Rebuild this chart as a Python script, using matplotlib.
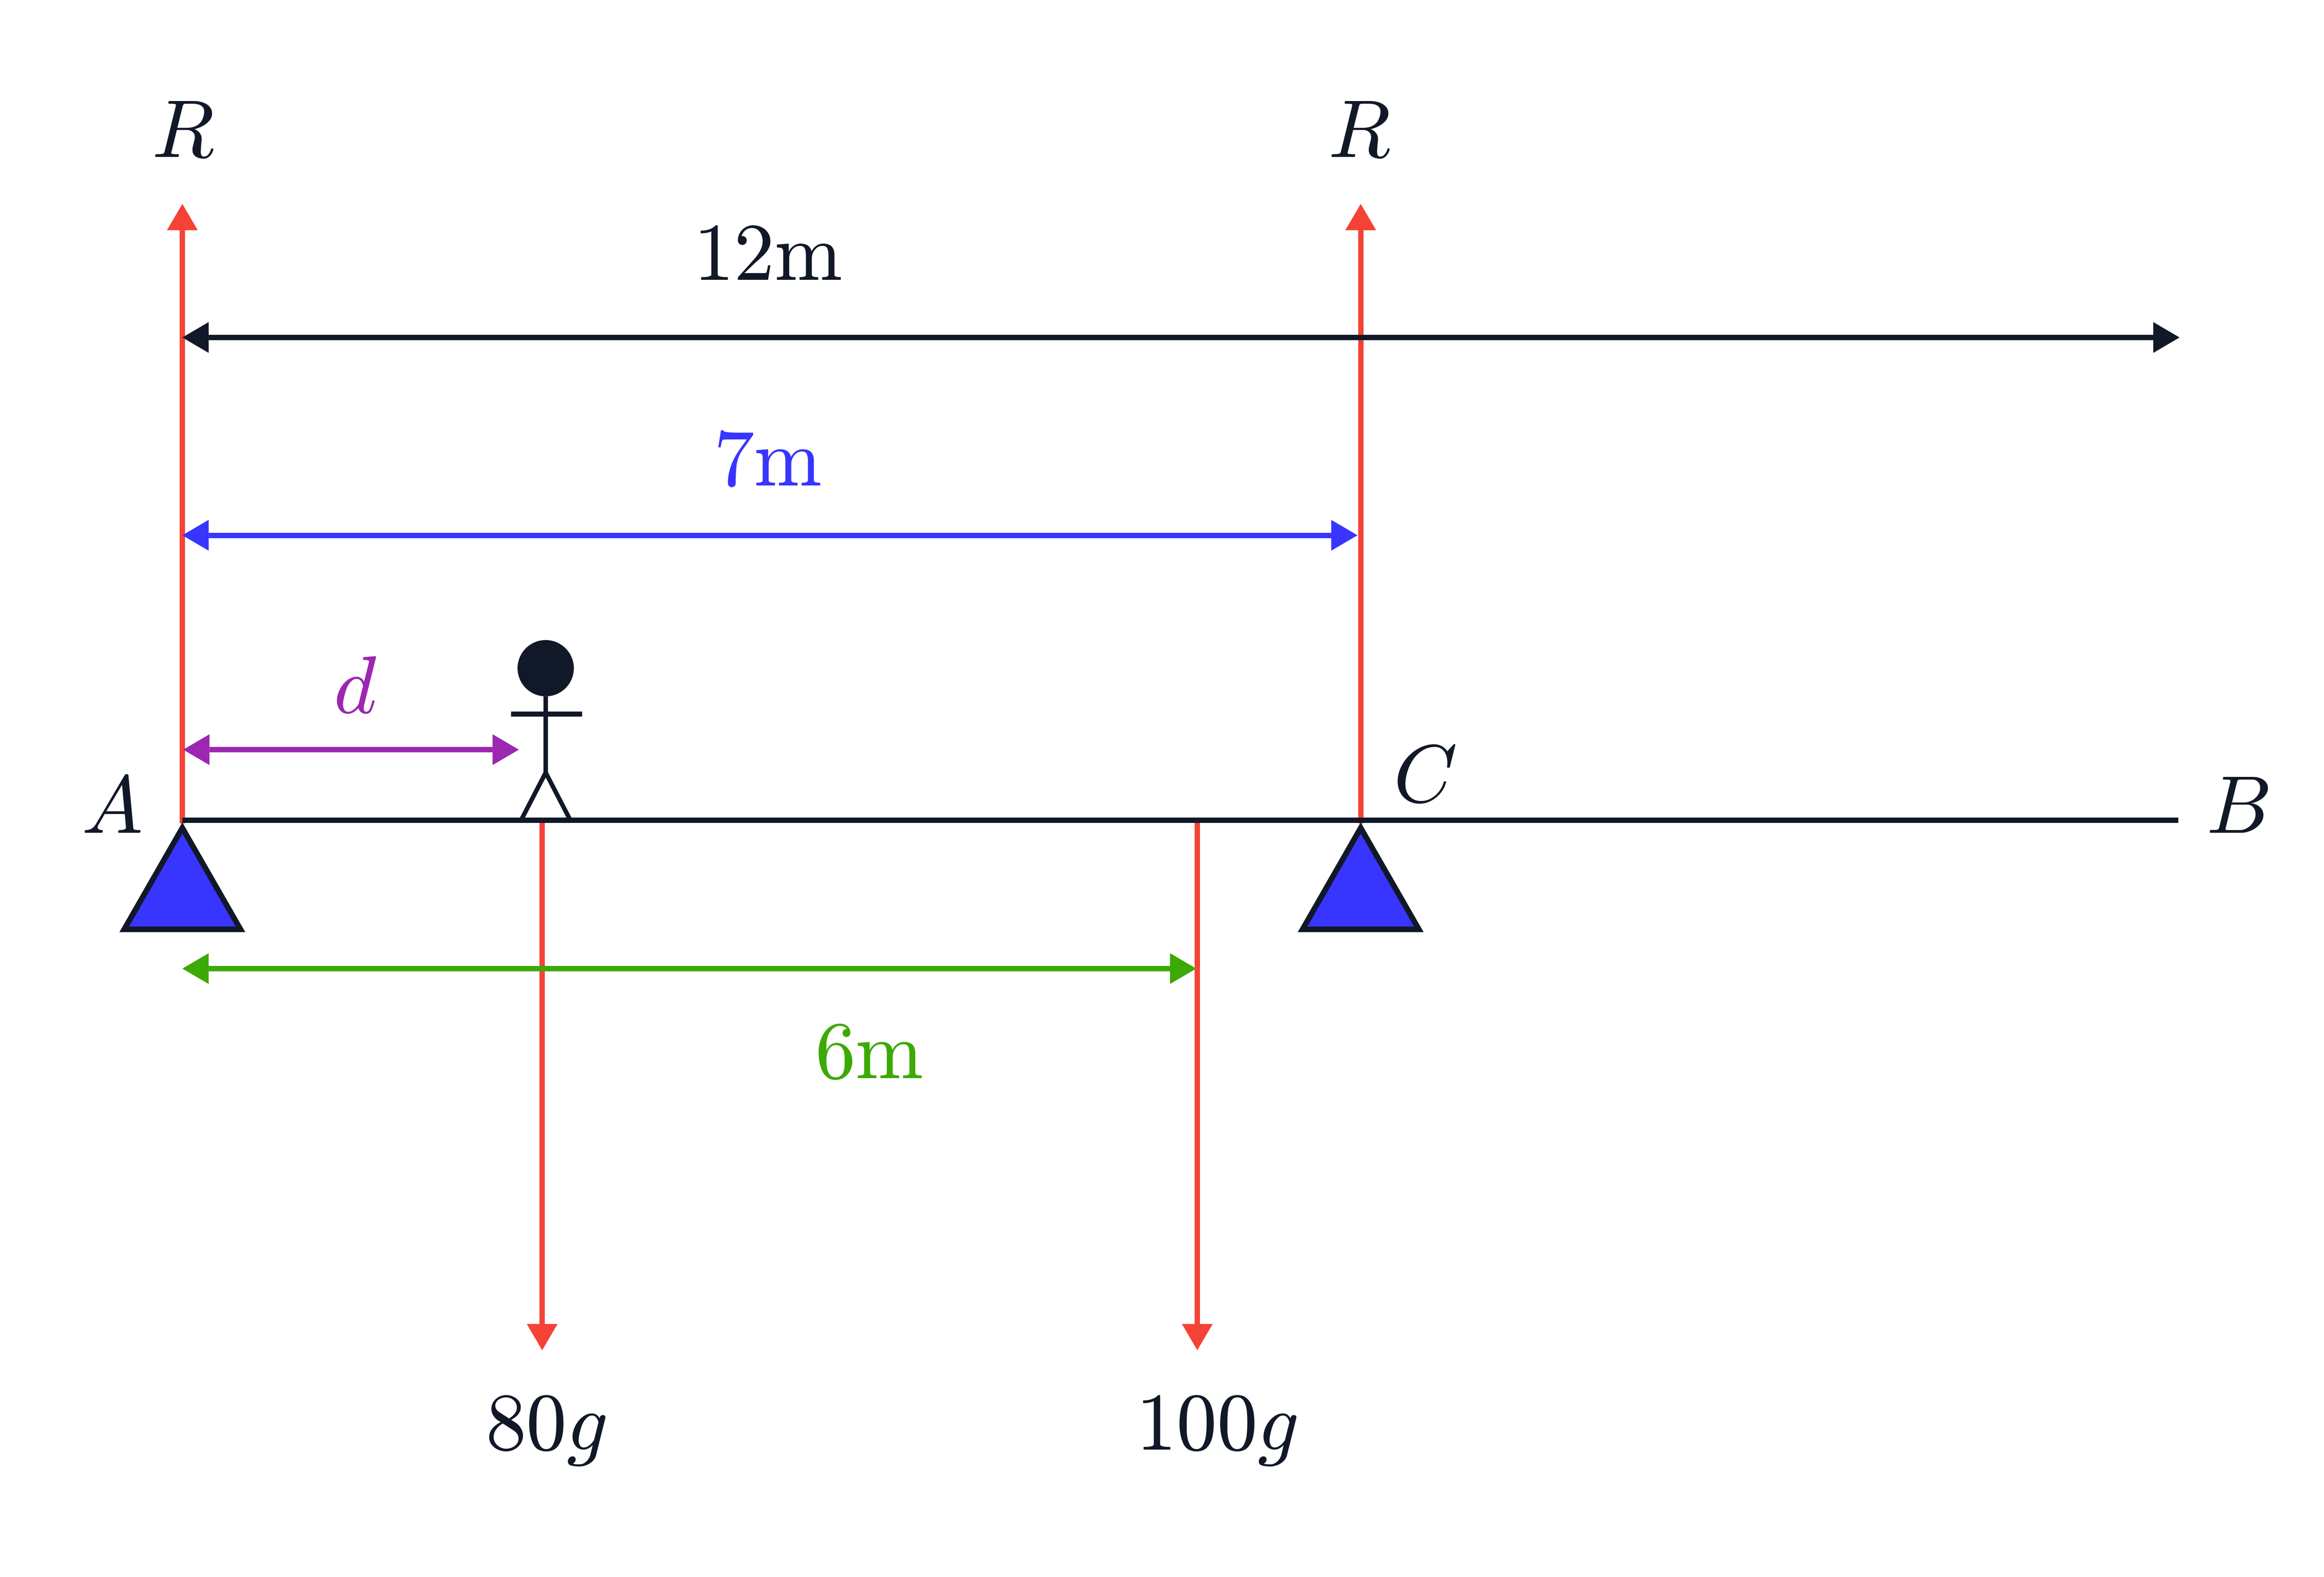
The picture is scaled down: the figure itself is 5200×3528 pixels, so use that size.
import matplotlib
matplotlib.use("Agg")
import matplotlib.pyplot as plt
from matplotlib.patches import Circle, Polygon

plt.rcParams['mathtext.fontset'] = 'cm'

# everything below is in metres on the diagram, beam left end = (0, 0)
beam_end = 11.909
support_x = [0, 7.031]
reaction_x = [0, 7.031]
reaction_top = 3.677
load_x = [2.147, 6.056]
load_bottom = -3.162
load_labels = ['$80g$', '$100g$']
load_label_x = [2.17, 6.17]
load_label_y = -3.755

span_labels = ['$\\mathrm{12m}$', '$\\mathrm{7m}$', '$d$', '$\\mathrm{6m}$']
span_start = [0, 0, 0.005, 0]
span_end = [11.917, 7.012, 2.008, 6.05]
span_y = [2.88, 1.70, 0.421, -0.885]
span_label_x = [3.49, 3.49, 1.03, 4.095]
span_label_y = [3.224, 1.997, 0.640, -1.54]

point_labels = ['$A$', '$B$', '$C$', '$R$', '$R$']
point_x = [-0.425, 12.26, 7.41, 0.003, 7.02]
point_y = [-0.075, -0.075, 0.11, 3.957, 3.957]

person_x = 2.168
head_y = 0.907
head_r = 0.168
neck_y = 0.739
hip_y = 0.284
arm_y = 0.635
arm_x = [1.96, 2.384]
feet_x = [2.021, 2.315]

support_half = 0.347
support_apex = -0.046
support_base = -0.651

ink = '#111827'
red = '#F44336'
blue = '#3835FF'
purple = '#9C27B0'
green = '#3DA906'
span_colors = [ink, blue, purple, green]

HEAD_LEN = 0.157
HEAD_HALF = 0.092
LW = 8.6
FONT = 131

px_per_m = 375
fig = plt.figure(figsize=(52, 35.28), dpi=100)
ax = fig.add_axes([0, 0, 1, 1])
ax.set_xlim(-408 / px_per_m, (5200 - 408) / px_per_m)
ax.set_ylim((1835 - 3528) / px_per_m, 1835 / px_per_m)
ax.axis('off')


# line with a filled triangular head on the end point
def vertical_arrow(x, y0, y1, color, z=2):
    sign = 1 if y1 > y0 else -1
    ax.plot([x, x], [y0, y1 - sign * HEAD_LEN], color=color, lw=LW, solid_capstyle='butt', zorder=z)
    ax.add_patch(Polygon([(x, y1), (x - HEAD_HALF, y1 - sign * HEAD_LEN), (x + HEAD_HALF, y1 - sign * HEAD_LEN)],
                         closed=True, fc=color, ec='none', zorder=z))


def span_arrow(x0, x1, y, color, z=3):
    ax.plot([x0 + HEAD_LEN, x1 - HEAD_LEN], [y, y], color=color, lw=LW, solid_capstyle='butt', zorder=z)
    ax.add_patch(Polygon([(x0, y), (x0 + HEAD_LEN, y + HEAD_HALF), (x0 + HEAD_LEN, y - HEAD_HALF)],
                         closed=True, fc=color, ec='none', zorder=z))
    ax.add_patch(Polygon([(x1, y), (x1 - HEAD_LEN, y + HEAD_HALF), (x1 - HEAD_LEN, y - HEAD_HALF)],
                         closed=True, fc=color, ec='none', zorder=z))


for x in reaction_x:
    vertical_arrow(x, -0.019, reaction_top, red)
for x in load_x:
    vertical_arrow(x, 0, load_bottom, red)

for x0, x1, y, c in zip(span_start, span_end, span_y, span_colors):
    span_arrow(x0, x1, y, c)

# beam
ax.plot([0, beam_end], [0, 0], color=ink, lw=LW, solid_capstyle='butt', zorder=4)

# supports
for x in support_x:
    ax.add_patch(Polygon([(x, support_apex), (x - support_half, support_base), (x + support_half, support_base)],
                         closed=True, fc=blue, ec=ink, lw=9, joinstyle='miter', zorder=4))

# stick figure standing on the beam
ax.add_patch(Circle((person_x, head_y), head_r, fc=ink, ec='none', zorder=4))
ax.plot([person_x, person_x], [neck_y, hip_y], color=ink, lw=7.2, solid_capstyle='butt', zorder=4)
ax.plot(arm_x, [arm_y, arm_y], color=ink, lw=8.2, solid_capstyle='butt', zorder=4)
ax.plot([feet_x[0], person_x, feet_x[1]], [0, hip_y, 0], color=ink, lw=7.2,
        solid_joinstyle='miter', solid_capstyle='butt', zorder=4)

# labels
for s, x, y in zip(point_labels, point_x, point_y):
    ax.text(x, y, s, color=ink, fontsize=FONT, ha='center', va='baseline')
for s, x, y, c in zip(span_labels, span_label_x, span_label_y, span_colors):
    ax.text(x, y, s, color=c, fontsize=FONT, ha='center', va='baseline')
for s, x in zip(load_labels, load_label_x):
    ax.text(x, load_label_y, s, color=ink, fontsize=FONT, ha='center', va='baseline')

fig.savefig('out.png', dpi=100, facecolor='white')
plt.close(fig)
